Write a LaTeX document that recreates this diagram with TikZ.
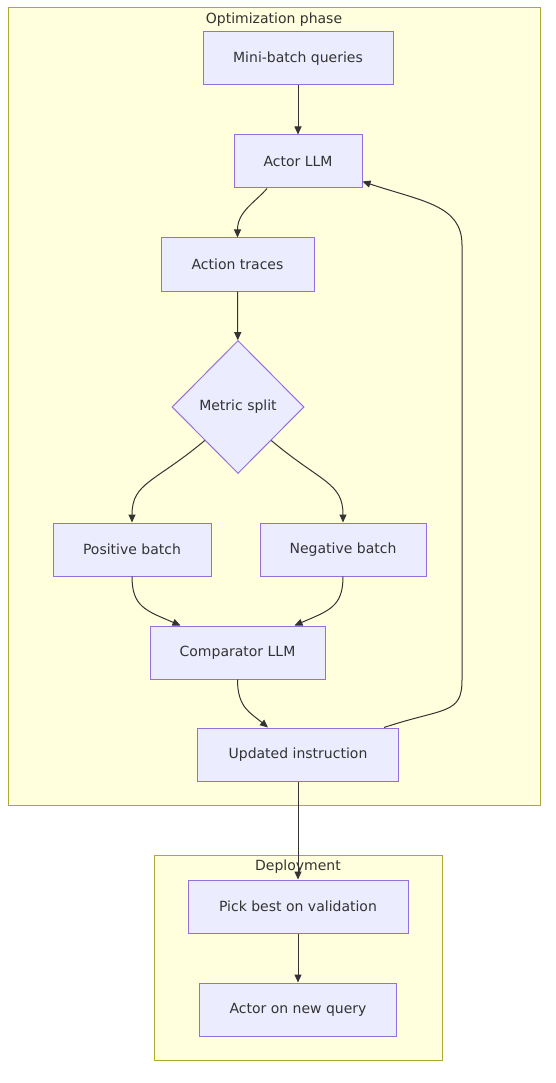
\documentclass[tikz,border=0pt]{standalone}
\usepackage{fontspec}
\setmainfont{DejaVu Sans}
\usetikzlibrary{shapes.geometric, arrows.meta, positioning}

\definecolor{clusterfill}{HTML}{FFFFDE}
\definecolor{clusterline}{HTML}{AAAA33}
\definecolor{nodefill}{HTML}{ECECFF}
\definecolor{nodeline}{HTML}{9370DB}
\definecolor{edgecol}{HTML}{333333}

\tikzset{
  cluster/.style={draw=clusterline, fill=clusterfill, line width=1pt},
  box/.style={draw=nodeline, fill=nodefill, line width=1pt, minimum height=53pt,
    inner sep=0pt, text=edgecol, font=\fontsize{14}{17}\selectfont},
  decision/.style={diamond, draw=nodeline, fill=nodefill, line width=1pt,
    minimum width=132pt, minimum height=133pt, inner sep=0pt, text=edgecol,
    font=\fontsize{14}{17}\selectfont},
  edge/.style={draw=edgecol, line width=1pt, -{Triangle[length=8pt,width=7pt]}},
  title/.style={text=edgecol, font=\fontsize{14}{17}\selectfont}
}

\begin{document}
\begin{tikzpicture}[x=1pt, y=-1pt]
    \useasboundingbox (0,0) rectangle (556,1083);

    % Clusters
    \draw[cluster] (8,8) rectangle (540,805);
    \node[title] (optlabel) at (274,20) {Optimization phase};
    \draw[cluster] (154,855) rectangle (442,1060);
    \node[title] (deplabel) at (298,867) {Deployment};

    % Optimization nodes
    \node[box, minimum width=190pt] (queries) at (298,58.5) {Mini-batch queries};
    \node[box, minimum width=128pt] (actor) at (298,161.5) {Actor LLM};
    \node[box, minimum width=153pt] (traces) at (237.5,264.5) {Action traces};
    \node[decision] (metric) at (238,407) {Metric split};
    \node[box, minimum width=158pt] (positive) at (132,549.5) {Positive batch};
    \node[box, minimum width=166pt] (negative) at (343,549.5) {Negative batch};
    \node[box, minimum width=175pt] (comparator) at (237.5,652.5) {Comparator LLM};
    \node[box, minimum width=201pt] (updated) at (298,754.5) {Updated instruction};

    % Deployment nodes
    \node[box, minimum width=220pt] (pickbest) at (298,906.5) {Pick best on validation};
    \node[box, minimum width=197pt] (newquery) at (298,1009.5) {Actor on new query};

    % Feedback loop
    \coordinate (loopbot) at (462,680);
    \coordinate (looptop) at (462,245);

    % Edges
    \draw[edge] (queries) -- (actor);
    \draw[edge] ([xshift=-31pt]actor.south) .. controls +(-12,14) and +(0,-26) .. (traces.north);
    \draw[edge] (traces) -- (metric);
    \draw[edge] (metric.south west) .. controls +(-50,42) and +(0,-40) .. (positive.north);
    \draw[edge] (metric.south east) .. controls +(50,42) and +(0,-40) .. (negative.north);
    \draw[edge] (positive.south) .. controls +(0,30) and +(-35,-15) .. ([xshift=-57pt]comparator.north);
    \draw[edge] (negative.south) .. controls +(0,30) and +(35,-15) .. ([xshift=57pt]comparator.north);
    \draw[edge] (comparator.south) .. controls +(0,28) and +(-18,-15) .. ([xshift=-30pt]updated.north);
    \draw[edge] ([xshift=86pt]updated.north) .. controls +(60,-20) and +(0,35) .. (loopbot)
        -- (looptop) .. controls +(0,-40) and +(60,20) .. ([yshift=-20pt]actor.east);
    \draw[edge] (updated) -- (pickbest);
    \draw[edge] (pickbest) -- (newquery);

\end{tikzpicture}
\end{document}
